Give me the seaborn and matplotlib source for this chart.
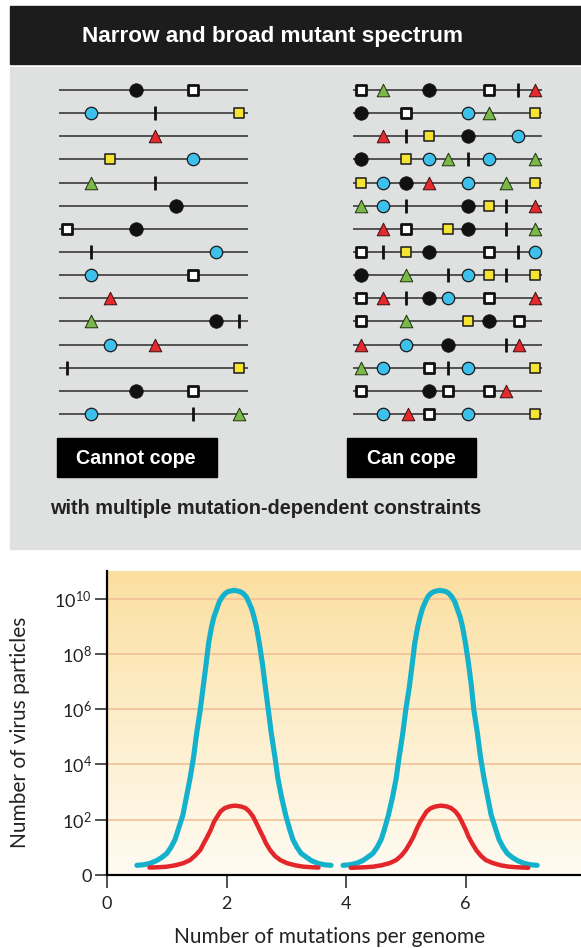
import matplotlib
matplotlib.use('Agg')

import numpy as np
import pandas as pd
import matplotlib.pyplot as plt
import seaborn as sns
from matplotlib.patches import Rectangle
from matplotlib.colors import LinearSegmentedColormap

# genome panels: one string of mutation kinds per genome, plus where each sits (0-1)
# B black circle, C blue circle, Y yellow square, W open square, R red / G green triangle, T tick
narrow_marks = ["BW", "CTY", "R", "YC", "GT", "B", "WB", "TC", "CW", "R",
                "GBT", "CR", "TY", "BW", "CTG"]
narrow_pos = [[.41, .71], [.17, .51, .95], [.51], [.27, .71], [.17, .51], [.62],
              [.04, .41], [.17, .83], [.17, .71], [.27], [.17, .83, .95],
              [.27, .51], [.04, .95], [.41, .71], [.17, .71, .95]]

broad_marks = ["WGBWTR", "BWCGY", "RTYBC", "BYCGTCG", "YCBRCGY", "GCTBYTR",
               "RWYBTG", "WTYBWTC", "BGTCYTY", "WRTBCWR", "WGYBW", "RCBTR",
               "GCWTCY", "WBWWR", "CRWCY"]
broad_pos = [[.04, .16, .40, .72, .875, .963],
             [.04, .28, .61, .72, .963],
             [.16, .28, .40, .61, .875],
             [.04, .28, .40, .50, .61, .72, .963],
             [.04, .16, .28, .40, .61, .81, .963],
             [.04, .16, .28, .61, .72, .81, .963],
             [.16, .28, .50, .61, .81, .963],
             [.04, .16, .28, .40, .72, .875, .963],
             [.04, .28, .50, .61, .72, .81, .963],
             [.04, .16, .28, .40, .50, .72, .963],
             [.04, .28, .61, .72, .88],
             [.04, .28, .50, .81, .88],
             [.04, .16, .40, .50, .61, .963],
             [.04, .40, .50, .72, .81],
             [.16, .29, .40, .61, .963]]

# mutant spectrum curves: mutations per genome vs log10(number of virus particles)
left_blue_x = [0.50, 0.61, 0.72, 0.83, 0.92, 1.00, 1.07, 1.14, 1.19, 1.27, 1.33, 1.39, 1.45,
               1.50, 1.56, 1.61, 1.66, 1.70, 1.75, 1.79, 1.84, 1.88, 1.93, 1.98, 2.03, 2.13,
               2.22, 2.28, 2.33, 2.37, 2.42, 2.46, 2.50, 2.55, 2.60, 2.65, 2.70, 2.75, 2.81,
               2.86, 2.92, 2.99, 3.06, 3.11, 3.18, 3.25, 3.34, 3.42, 3.53, 3.64, 3.75]
left_blue_exp = [0.35, 0.37, 0.42, 0.52, 0.64, 0.78, 1.00, 1.29, 1.63, 2.17, 2.83, 3.50, 4.28,
                 5.12, 5.97, 6.81, 7.66, 8.38, 8.98, 9.34, 9.64, 9.89, 10.07, 10.19, 10.26, 10.30,
                 10.26, 10.19, 10.07, 9.89, 9.64, 9.34, 8.98, 8.38, 7.66, 6.81, 5.97, 5.12, 4.28,
                 3.50, 2.83, 2.17, 1.63, 1.29, 1.00, 0.78, 0.64, 0.52, 0.42, 0.37, 0.35]
left_red_x = [0.71, 0.86, 1.00, 1.14, 1.28, 1.39, 1.47, 1.56, 1.62, 1.68, 1.74, 1.79, 1.85,
              1.90, 1.97, 2.05, 2.14, 2.24, 2.32, 2.38, 2.44, 2.49, 2.55, 2.61, 2.66, 2.73,
              2.81, 2.90, 3.01, 3.15, 3.29, 3.43, 3.54]
left_red_exp = [0.27, 0.28, 0.30, 0.35, 0.43, 0.54, 0.69, 0.90, 1.15, 1.39, 1.65, 1.92, 2.13,
                2.30, 2.42, 2.48, 2.51, 2.48, 2.42, 2.30, 2.13, 1.92, 1.65, 1.39, 1.15, 0.90,
                0.69, 0.54, 0.43, 0.35, 0.30, 0.28, 0.27]

right_blue_x = [3.95, 4.06, 4.17, 4.28, 4.36, 4.45, 4.52, 4.59, 4.64, 4.71, 4.78, 4.84, 4.89,
                4.95, 5.00, 5.06, 5.11, 5.15, 5.20, 5.24, 5.28, 5.33, 5.37, 5.42, 5.48, 5.57,
                5.67, 5.72, 5.77, 5.82, 5.86, 5.91, 5.95, 6.00, 6.05, 6.10, 6.14, 6.20, 6.25,
                6.31, 6.37, 6.43, 6.51, 6.56, 6.63, 6.70, 6.78, 6.87, 6.98, 7.09, 7.20]
right_blue_exp = [0.35, 0.37, 0.42, 0.52, 0.64, 0.78, 1.00, 1.29, 1.63, 2.17, 2.83, 3.50, 4.28,
                  5.12, 5.97, 6.81, 7.66, 8.38, 8.98, 9.34, 9.64, 9.89, 10.07, 10.19, 10.26, 10.30,
                  10.26, 10.19, 10.07, 9.89, 9.64, 9.34, 8.98, 8.38, 7.66, 6.81, 5.97, 5.12, 4.28,
                  3.50, 2.83, 2.17, 1.63, 1.29, 1.00, 0.78, 0.64, 0.52, 0.42, 0.37, 0.35]
right_red_x = [4.08, 4.31, 4.45, 4.59, 4.73, 4.84, 4.92, 5.00, 5.07, 5.13, 5.18, 5.24, 5.30,
               5.35, 5.42, 5.50, 5.59, 5.69, 5.76, 5.83, 5.89, 5.94, 6.00, 6.05, 6.11, 6.18,
               6.26, 6.34, 6.46, 6.59, 6.73, 6.87, 7.05]
right_red_exp = [0.26, 0.28, 0.30, 0.35, 0.43, 0.54, 0.69, 0.90, 1.15, 1.39, 1.65, 1.92, 2.13,
                 2.30, 2.42, 2.48, 2.51, 2.48, 2.42, 2.30, 2.13, 1.92, 1.65, 1.39, 1.15, 0.90,
                 0.69, 0.54, 0.43, 0.35, 0.30, 0.28, 0.26]

y_exponents = [0, 2, 4, 6, 8, 10]
x_ticks = [0, 2, 4, 6, 8]

sns.set_style('ticks')
plt.rcParams['font.family'] = ['Lato', 'DejaVu Sans']
plt.rcParams['mathtext.default'] = 'regular'

W, H = 581, 948
fig = plt.figure(figsize=(W / 100, H / 100), dpi=100)


def px_axes(x0, y0, x1, y1):
    return fig.add_axes([x0 / W, 1 - y1 / H, (x1 - x0) / W, (y1 - y0) / H])


# background panels drawn in pixel space
bg = fig.add_axes([0, 0, 1, 1])
bg.set_xlim(0, W)
bg.set_ylim(H, 0)
bg.axis('off')
bg.add_patch(Rectangle((10, 6), W - 10, 58, color='#1c1c1c'))
bg.add_patch(Rectangle((10, 67), W - 10, 482, color='#dfe1e0'))
bg.add_patch(Rectangle((57, 438), 160, 39, color='black'))
bg.add_patch(Rectangle((347, 438), 129, 39, color='black'))
hd = dict(family=['Liberation Sans', 'DejaVu Sans'], weight='bold', ha='center', va='center')
bg.text(272, 36, 'Narrow and broad mutant spectrum', color='white', fontsize=16.2, **hd)
bg.text(136, 458, 'Cannot cope', color='white', fontsize=14.2, **hd)
bg.text(411.5, 458, 'Can cope', color='white', fontsize=14.2, **hd)
bg.text(266, 508, 'with multiple mutation-dependent constraints', color='#222222',
        fontsize=14.3, **hd)

kinds = {
    'B': dict(marker='o', s=95, color='#111111', edgecolor='#111111', linewidth=0.5),
    'C': dict(marker='o', s=80, color='#3ec0ec', edgecolor='#1a1a1a', linewidth=0.9),
    'Y': dict(marker='s', s=52, color='#f6e432', edgecolor='#1a1a1a', linewidth=1.1),
    'W': dict(marker='s', s=48, color='white', edgecolor='#111111', linewidth=2.0),
    'R': dict(marker='^', s=82, color='#e42a2c', edgecolor='#3a1010', linewidth=0.7),
    'G': dict(marker='^', s=82, color='#7ab84a', edgecolor='#1e3010', linewidth=0.7),
    'T': dict(marker='|', s=95, color='#111111', linewidth=2.0),
}

row_top, row_gap = 90, 23.14
n_rows = len(narrow_marks)
for marks, pos, (x0, x1) in [(narrow_marks, narrow_pos, (59, 248)),
                             (broad_marks, broad_pos, (353, 542))]:
    ax = px_axes(x0, row_top - row_gap / 2, x1, row_top + (n_rows - 0.5) * row_gap)
    ax.set_xlim(0, 1)
    ax.set_ylim(n_rows - 0.5, -0.5)
    ax.axis('off')
    ax.hlines(range(n_rows), 0, 1, color='#2b2b2b', lw=1.1, zorder=1)
    df = pd.DataFrame([(r, k, p) for r, (ks, ps) in enumerate(zip(marks, pos))
                       for k, p in zip(ks, ps)], columns=['row', 'kind', 'pos'])
    for k, style in kinds.items():
        sub = df[df['kind'] == k]
        sns.scatterplot(data=sub, x='pos', y='row', ax=ax, legend=False,
                        zorder=3, clip_on=False, **style)
    ax.set_xlabel('')
    ax.set_ylabel('')

# spectrum plot
x_left, x_per_unit = 107, 59.75
x_max = 8.3
rect = (x_left, 571, x_left + x_max * x_per_unit, 875)
gax = px_axes(*rect)
grad_cmap = LinearSegmentedColormap.from_list('g', ['#fffbf2', '#fdeecb', '#fbdfa0'])
gax.imshow(np.linspace(0, 1, 256)[:, None], cmap=grad_cmap, aspect='auto', origin='lower',
           extent=[0, 1, 0, 1])
gax.axis('off')

ax = px_axes(*rect)
ax.set_facecolor('none')
ax.set_yscale('log')
for xs, es, col, lw in [(left_blue_x, left_blue_exp, '#13b1cb', 3.7),
                        (right_blue_x, right_blue_exp, '#13b1cb', 3.7),
                        (left_red_x, left_red_exp, '#e3262a', 3.2),
                        (right_red_x, right_red_exp, '#e3262a', 3.2)]:
    sns.lineplot(x=xs, y=10.0 ** np.array(es), ax=ax, color=col, lw=lw, sort=False,
                 estimator=None, solid_capstyle='round', solid_joinstyle='round', zorder=3)

ax.set_xlim(0, x_max)
ax.set_ylim(1, 10 ** 11)
ax.set_yticks([10.0 ** e for e in y_exponents])
ax.set_yticklabels(['0'] + [r'$10^{%d}$' % e for e in y_exponents[1:]])
ax.yaxis.set_minor_locator(matplotlib.ticker.NullLocator())
ax.set_xticks(x_ticks)
ax.set_xticklabels([str(t) for t in x_ticks])
ax.grid(axis='y', color='#f1bd93', lw=1.1, zorder=1)
ax.grid(axis='x', visible=False)
ax.set_axisbelow(True)
sns.despine(ax=ax)
for s in ['left', 'bottom']:
    ax.spines[s].set_linewidth(1.6)
    ax.spines[s].set_color('black')
ax.tick_params(axis='both', length=9, width=1.2, color='#333333', labelsize=13,
               labelcolor='#222222')
ax.tick_params(axis='y', pad=2)
ax.tick_params(axis='x', pad=6)
ax.set_xlabel('')
ax.set_ylabel('')

fig.text(330 / W, 1 - 937 / H, 'Number of mutations per genome', ha='center', va='center',
         fontsize=15, color='#222222')
fig.text(20 / W, 1 - 732 / H, 'Number of virus particles', ha='center', va='center',
         rotation=90, fontsize=15, color='#222222')

fig.savefig('out.png', dpi=100)
plt.close(fig)
